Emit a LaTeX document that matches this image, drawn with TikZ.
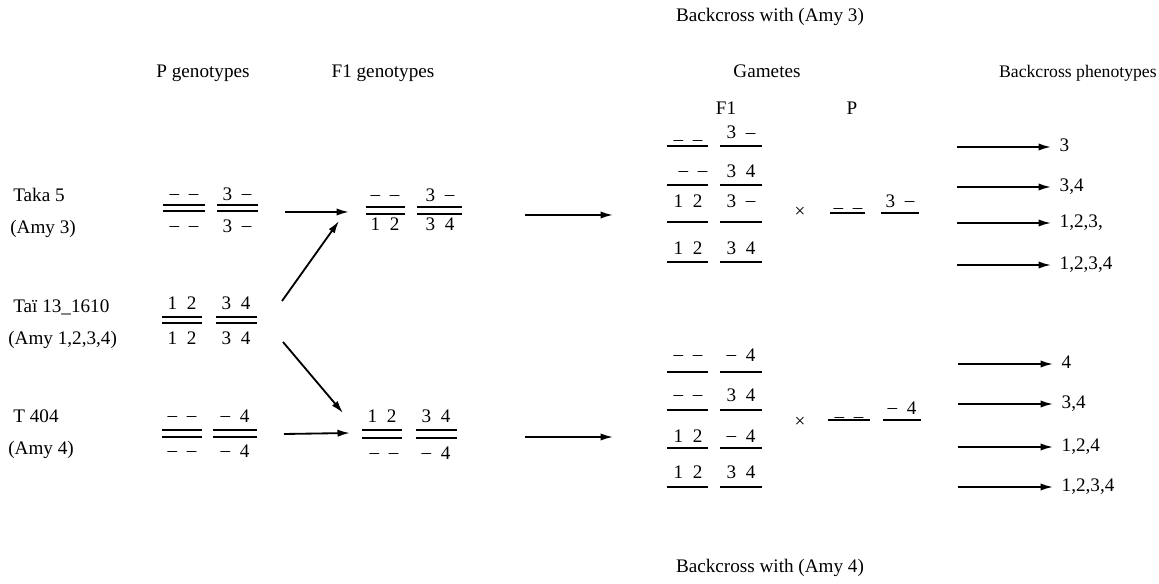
\documentclass[tikz,border=0pt]{standalone}
\usepackage{fontspec}
\setmainfont{Liberation Serif}
\usetikzlibrary{arrows.meta}
\newcommand{\gp}{\hspace{0.5em}}
\newcommand{\nd}{\raisebox{0.1em}{–}}

\begin{document}
\begin{tikzpicture}[x=0.6pt,y=-0.6pt,font=\fontsize{11.5}{13}\selectfont,
  chrom/.style={line width=1.15pt},
  allele/.style={inner sep=0pt,anchor=base},
  head/.style={inner sep=0pt,anchor=base},
  lab/.style={inner sep=0pt,anchor=base west},
  arr/.style={line width=1.1pt,-{Latex[length=7.5pt,width=4.4pt]}},
  phen/.style={anchor=west,inner xsep=5pt,inner ysep=0pt,text height=1.5ex,text depth=0.25ex}]
\useasboundingbox (0,0) rectangle (1159,584);

% headings
\node[head] (bc3) at (770,22) {Backcross with (Amy 3)};
\node[head] (hP) at (203,78) {P genotypes};
\node[head] (hF) at (383,78) {F1 genotypes};
\node[head] (hGam) at (767,78) {Gametes};
\node[head,anchor=base east,font=\fontsize{10.6}{12}\selectfont] (hPhen) at (1157,78) {Backcross phenotypes};
\node[head] (hgF) at (726,115) {F1};
\node[head] (hgP) at (852,115) {P};
\node[head] (bc4) at (770,573) {Backcross with (Amy 4)};

% strains
\node[lab] (taka) at (13,202) {Taka 5};
\node[lab] (amyA) at (10,234) {(Amy 3)};
\node[lab] (tai) at (13,313) {Taï 13\_1610};
\node[lab] (amyAll) at (8,345) {(Amy 1,2,3,4)};
\node[lab] (tfour) at (13,423) {T 404};
\node[lab] (amyB) at (8,455) {(Amy 4)};

% P genotypes
\draw[chrom] (163,205) -- (205,205) (163,211) -- (205,211);
\draw[chrom] (217,205) -- (258,205) (217,211) -- (258,211);
\node[allele] (takaTL) at (184,201) {\nd\gp\nd};
\node[allele] (takaTR) at (237,201) {3\gp\nd};
\node[allele] (takaBL) at (184,233) {\nd\gp\nd};
\node[allele] (takaBR) at (237,233) {3\gp\nd};

\draw[chrom] (162,317) -- (202,317) (162,323) -- (202,323);
\draw[chrom] (216,317) -- (257,317) (216,323) -- (257,323);
\node[allele] (taiTL) at (182,310) {1\gp2};
\node[allele] (taiTR) at (236,310) {3\gp4};
\node[allele] (taiBL) at (182,345) {1\gp2};
\node[allele] (taiBR) at (236,345) {3\gp4};

\draw[chrom] (162,430) -- (202,430) (162,437) -- (202,437);
\draw[chrom] (213,430) -- (257,430) (213,437) -- (257,437);
\node[allele] (tfourTL) at (182,423) {\nd\gp\nd};
\node[allele] (tfourTR) at (235,423) {\nd\gp4};
\node[allele] (tfourBL) at (182,458) {\nd\gp\nd};
\node[allele] (tfourBR) at (235,458) {\nd\gp4};

% F1 genotypes
\draw[chrom] (366,207) -- (405,207) (366,214) -- (405,214);
\draw[chrom] (417,207) -- (462,207) (417,214) -- (462,214);
\node[allele] (fATL) at (385,202) {\nd\gp\nd};
\node[allele] (fATR) at (440,202) {3\gp\nd};
\node[allele] (fABL) at (385,231) {1\gp2};
\node[allele] (fABR) at (440,231) {3\gp4};

\draw[chrom] (362,430) -- (402,430) (362,438) -- (402,438);
\draw[chrom] (416,430) -- (457,430) (416,438) -- (457,438);
\node[allele] (fBTL) at (382,423) {1\gp2};
\node[allele] (fBTR) at (436,423) {3\gp4};
\node[allele] (fBBL) at (384,460) {\nd\gp\nd};
\node[allele] (fBBR) at (436,460) {\nd\gp4};

% crosses
\coordinate (takaOut) at (285,212);
\coordinate (fAIn) at (349,212);
\coordinate (taiUp) at (282,301);
\coordinate (fAInB) at (339,221);
\coordinate (taiDown) at (283,342);
\coordinate (fBInA) at (343,413);
\coordinate (tfourOut) at (284,434);
\coordinate (fBIn) at (350,433);
\coordinate (fAOut) at (525,215);
\coordinate (gamAIn) at (613,215);
\coordinate (fBOut) at (525,437);
\coordinate (gamBIn) at (613,437);
\draw[arr] (takaOut) -- (fAIn);
\draw[arr] (taiUp) -- (fAInB);
\draw[arr] (taiDown) -- (fBInA);
\draw[arr] (tfourOut) -- (fBIn);
\draw[arr] (fAOut) -- (gamAIn);
\draw[arr] (fBOut) -- (gamBIn);

% gametes, backcross with (Amy 3)
\draw[chrom] (667,146) -- (708,146) (720,146) -- (762,146);
\draw[chrom] (667,185) -- (708,185) (720,185) -- (762,185);
\draw[chrom] (667,222) -- (708,222) (720,222) -- (762,222);
\draw[chrom] (667,262) -- (708,262) (720,262) -- (762,262);
\node[allele] (gA1L) at (688,146) {–\gp–};
\node[allele] (gA1R) at (741,139) {3\gp–};
\node[allele] (gA2L) at (693,178) {\nd\gp\nd};
\node[allele] (gA2R) at (741,178) {3\gp4};
\node[allele] (gA3L) at (688,208) {1\gp2};
\node[allele] (gA3R) at (741,208) {3\gp\nd};
\node[allele] (gA4L) at (688,255) {1\gp2};
\node[allele] (gA4R) at (741,255) {3\gp4};
\node (xA) at (800,212) {×};
\draw[chrom] (830,213) -- (865,213) (881,213) -- (919,213);
\node[allele] (pAL) at (848,214) {–\gp–};
\node[allele] (pAR) at (900,208) {3\gp\nd};

% gametes, backcross with (Amy 4)
\draw[chrom] (667,372) -- (708,372) (720,372) -- (762,372);
\draw[chrom] (667,410) -- (708,410) (720,410) -- (762,410);
\draw[chrom] (667,448) -- (708,448) (720,448) -- (762,448);
\draw[chrom] (667,487) -- (708,487) (720,487) -- (762,487);
\node[allele] (gB1L) at (688,362) {\nd\gp\nd};
\node[allele] (gB1R) at (741,362) {\nd\gp4};
\node[allele] (gB2L) at (688,402) {\nd\gp\nd};
\node[allele] (gB2R) at (741,402) {3\gp4};
\node[allele] (gB3L) at (688,443) {1\gp2};
\node[allele] (gB3R) at (741,443) {\nd\gp4};
\node[allele] (gB4L) at (688,479) {1\gp2};
\node[allele] (gB4R) at (741,479) {3\gp4};
\node (xB) at (800,422) {×};
\draw[chrom] (828,420) -- (870,420) (883,420) -- (921,420);
\node[allele] (pBL) at (849,423) {–\gp–};
\node[allele] (pBR) at (902,415) {\nd\gp4};

% phenotypes
\node[phen] (phA1) at (1051,147) {3};
\node[phen] (phA2) at (1051,187) {3,4};
\node[phen] (phA3) at (1051,223) {1,2,3,};
\node[phen] (phA4) at (1051,265) {1,2,3,4};
\node[phen] (phB1) at (1053,364) {4};
\node[phen] (phB2) at (1053,404) {3,4};
\node[phen] (phB3) at (1053,447) {1,2,4};
\node[phen] (phB4) at (1053,487) {1,2,3,4};
\coordinate (sA1) at (957,147);
\coordinate (sA2) at (957,187);
\coordinate (sA3) at (957,223);
\coordinate (sA4) at (957,265);
\coordinate (sB1) at (958,364);
\coordinate (sB2) at (958,404);
\coordinate (sB3) at (958,447);
\coordinate (sB4) at (958,487);
\draw[arr] (sA1) -- (phA1.west);
\draw[arr] (sA2) -- (phA2.west);
\draw[arr] (sA3) -- (phA3.west);
\draw[arr] (sA4) -- (phA4.west);
\draw[arr] (sB1) -- (phB1.west);
\draw[arr] (sB2) -- (phB2.west);
\draw[arr] (sB3) -- (phB3.west);
\draw[arr] (sB4) -- (phB4.west);
\end{tikzpicture}
\end{document}
